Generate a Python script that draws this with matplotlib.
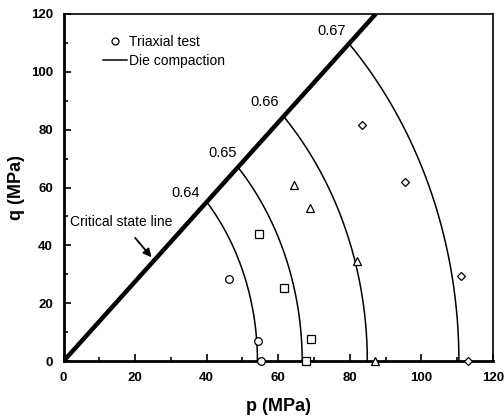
import numpy as np
import matplotlib.pyplot as plt
from matplotlib.lines import Line2D

plt.rcParams['font.family'] = ['Liberation Sans', 'DejaVu Sans']

# critical state line slope (q/p)
M = 1.375

# die compaction caps: relative density, p at q=0, vertical semi-axis
dens = ['0.64', '0.65', '0.66', '0.67']
cap_p0 = [54.2, 66.7, 84.9, 110.5]
cap_q0 = [81.6, 98.2, 122.7, 158.6]
label_p = [34.0, 44.4, 56.3, 74.9]
label_q = [58.0, 72.1, 89.7, 114.0]

# triaxial test points
p_064 = [46.3, 54.4, 55.1]
q_064 = [28.3, 7.0, 0.1]
p_065 = [54.7, 61.7, 69.1, 67.9]
q_065 = [43.8, 25.2, 7.5, 0.0]
p_066 = [64.3, 68.9, 82.0, 87.0]
q_066 = [60.9, 53.1, 34.5, 0.0]
p_067 = [83.3, 95.3, 111.0, 112.9]
q_067 = [81.7, 61.9, 29.6, 0.0]

fig = plt.figure(figsize=(5.04, 4.2), dpi=100)
ax = fig.add_axes([0.126, 0.14, 0.852, 0.827])

# critical state line
pc = np.array([0, 120 / M])
ax.plot(pc, M * pc, color='black', lw=3.2, solid_capstyle='butt', zorder=3)

# caps (ellipse centred on origin, cut by CSL)
for a, b in zip(cap_p0, cap_q0):
    t_end = np.arctan2(M * a, b)
    t = np.linspace(0, t_end, 200)
    ax.plot(a * np.cos(t), b * np.sin(t), color='black', lw=1.1, zorder=2)

for s, x, y in zip(dens, label_p, label_q):
    ax.text(x, y, s, fontsize=10.5, ha='center', va='center')

mk = dict(color='black', mfc='white', ls='none', mew=0.9, zorder=4, clip_on=False)
ax.plot(p_064, q_064, marker='o', ms=5.5, **mk)
ax.plot(p_065, q_065, marker='s', ms=6, **mk)
ax.plot(p_066, q_066, marker='^', ms=5.5, **mk)
ax.plot(p_067, q_067, marker='D', ms=4.5, **mk)

ax.annotate('Critical state line', xy=(24.6, 35.9), xytext=(16.2, 48.2),
            fontsize=10, ha='center', va='center',
            arrowprops=dict(arrowstyle='-|>', color='black', lw=1.3,
                            mutation_scale=12, shrinkA=6, shrinkB=0))

handles = [Line2D([], [], color='black', marker='o', mfc='white', ls='none', ms=5, mew=0.9),
           Line2D([], [], color='black', lw=1.1)]
ax.legend(handles, ['Triaxial test', 'Die compaction'], loc='upper left',
          bbox_to_anchor=(0.092, 0.94), frameon=False, fontsize=10,
          handlelength=1.7, handletextpad=0.2, labelspacing=0.4,
          borderaxespad=0, borderpad=0)

ax.set_xlim(0, 120)
ax.set_ylim(0, 120)
ax.set_xticks(np.arange(0, 121, 20))
ax.set_yticks(np.arange(0, 121, 20))
ax.set_xticks(np.arange(0, 121, 10), minor=True)
ax.set_yticks(np.arange(0, 121, 10), minor=True)
ax.tick_params(which='both', direction='in', top=False, right=False, width=1.2)
ax.tick_params(which='major', length=5, labelsize=9.5, pad=7.5)
ax.tick_params(which='minor', length=3)
for lab in ax.get_xticklabels() + ax.get_yticklabels():
    lab.set_fontweight('bold')
ax.spines['left'].set_linewidth(2)
ax.spines['bottom'].set_linewidth(2)
ax.spines['top'].set_linewidth(1.2)
ax.spines['right'].set_linewidth(1.2)

ax.set_xlabel('p (MPa)', fontsize=13, fontweight='bold', labelpad=10)
ax.set_ylabel('q (MPa)', fontsize=13, fontweight='bold', labelpad=4)

plt.savefig('out.png', dpi=100)
